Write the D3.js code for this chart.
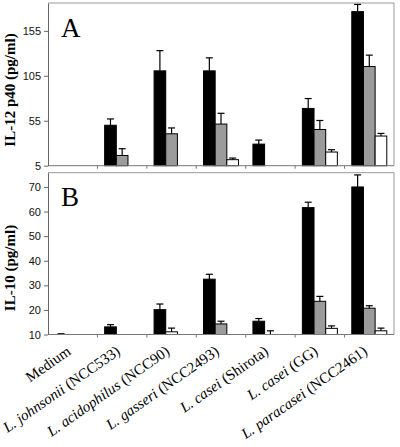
<!DOCTYPE html>
<html><head><meta charset="utf-8">
<script src="https://cdn.jsdelivr.net/npm/d3@7"></script>
<style>body{margin:0;background:#fff}svg{display:block}</style>
</head><body>
<script>
const categories = ["Medium","L. johnsonii (NCC533)","L. acidophilus (NCC90)","L. gasseri (NCC2493)","L. casei (Shirota)","L. casei (GG)","L. paracasei (NCC2461)"];
const speciesNames = ["Medium","L. johnsonii","L. acidophilus","L. gasseri","L. casei","L. casei","L. paracasei"];
const strainNames = ["","(NCC533)","(NCC90)","(NCC2493)","(Shirota)","(GG)","(NCC2461)"];
const speciesItalic = [false,true,true,true,true,true,true];

// Panel A: IL-12 p40 (pg/ml)
const aBlack    = [null, 50, 110.5, 110.5, 29, 68.7, 176.4];
const aBlackErr = [null, 7, 22.5, 14.5, 4.5, 11, 8];
const aGray     = [null, 16.4, 40.5, 51.3, null, 45.3, 115.3];
const aGrayErr  = [null, 7.5, 6.5, 12, null, 10, 12.7];
const aWhite    = [null, null, null, 11.7, null, 20.2, 38];
const aWhiteErr = [null, null, null, 1.8, null, 2.6, 2.9];
const aWhiteSlot = [2,2,2,2,2,2,2];
const aTicks = [5, 55, 105, 155];

// Panel B: IL-10 (pg/ml)
const bBlack    = [10, 13.1, 20.1, 32.5, 15.4, 61.6, 70.0];
const bBlackErr = [0.3, 0.9, 2.3, 2, 1.1, 2.2, 4.9];
const bGray     = [null, null, null, 14.3, null, 23.5, 20.7];
const bGrayErr  = [null, null, null, 1.1, null, 2, 1];
const bWhite    = [null, null, 11.1, null, 10, 12.5, 11.5];
const bWhiteErr = [null, null, 1.5, null, 1.5, 1, 1.1];
const bWhiteSlot = [2,2,1,2,1,2,2];
const bTicks = [10, 20, 30, 40, 50, 60, 70];

const W = 400, H = 447;
const svg = d3.select("body").append("svg").attr("width", W).attr("height", H);

const x = d3.scaleBand().domain(categories).range([48, 394]).paddingInner(0).paddingOuter(0);
const bw = x.bandwidth() * 0.236;
const off = (x.bandwidth() - 3 * bw) / 2;

const panels = [
  {y: d3.scaleLinear().domain([5, 186]).range([165.7, 3]), ticks: aTicks, letter: "A", letterY: 37,
   title: "IL-12 p40 (pg/ml)", titleY: 90,
   series: [{v: aBlack, e: aBlackErr, fill: "#000", slot: categories.map(()=>0)},
            {v: aGray, e: aGrayErr, fill: "#9b9b9b", slot: categories.map(()=>1)},
            {v: aWhite, e: aWhiteErr, fill: "#fff", slot: aWhiteSlot}]},
  {y: d3.scaleLinear().domain([10, 75.8]).range([334.5, 172.7]), ticks: bTicks, letter: "B", letterY: 206,
   title: "IL-10 (pg/ml)", titleY: 268,
   series: [{v: bBlack, e: bBlackErr, fill: "#000", slot: categories.map(()=>0)},
            {v: bGray, e: bGrayErr, fill: "#9b9b9b", slot: categories.map(()=>1)},
            {v: bWhite, e: bWhiteErr, fill: "#fff", slot: bWhiteSlot}]}
];

panels.forEach(p => {
  const y = p.y;
  const [y0, y1] = y.range();
  const g = svg.append("g");
  g.append("path").attr("d", `M48,${y1}H394V${y0}`).attr("fill","none").attr("stroke","#999").attr("stroke-width",1);
  p.series.forEach(s => {
    s.v.forEach((v, i) => {
      if (v == null) return;
      const bx = x(categories[i]) + off + s.slot[i] * bw;
      const top = y(v);
      if (v > y.domain()[0]) {
        g.append("rect").attr("x", bx).attr("y", top).attr("width", bw).attr("height", y0 - top)
          .attr("fill", s.fill).attr("stroke", "#000").attr("stroke-width", 1);
      }
      const e = s.e[i];
      if (e) {
        const cx = bx + bw / 2, et = y(v + e);
        g.append("line").attr("x1", cx).attr("x2", cx).attr("y1", top).attr("y2", et).attr("stroke","#000").attr("stroke-width",1.2);
        g.append("line").attr("x1", cx - 3.5).attr("x2", cx + 3.5).attr("y1", et).attr("y2", et).attr("stroke","#000").attr("stroke-width",1.2);
      }
    });
  });
  g.append("line").attr("x1",48).attr("x2",394).attr("y1",y0).attr("y2",y0).attr("stroke","#777");
  categories.forEach((c,i) => {
    if (i === 0) return;
    g.append("line").attr("x1",x(c)).attr("x2",x(c)).attr("y1",y0).attr("y2",y0+3).attr("stroke","#777");
  });
  const ax = g.append("g").attr("transform","translate(48,0)")
    .call(d3.axisLeft(y).tickValues(p.ticks).tickSize(4).tickPadding(3).tickSizeOuter(0));
  ax.select(".domain").attr("stroke","#666");
  ax.selectAll(".tick line").attr("stroke","#666");
  ax.selectAll("text").attr("font-family","Arial, 'Liberation Sans', sans-serif").attr("font-size",11).attr("fill","#111");
  g.append("text").attr("x", 61).attr("y", p.letterY).text(p.letter)
    .attr("font-family","'Liberation Serif','Times New Roman',serif").attr("font-size",27);
  g.append("text").attr("transform", `translate(15,${p.titleY}) rotate(-90)`).attr("text-anchor","middle")
    .attr("font-family","'Liberation Serif','Times New Roman',serif").attr("font-weight","bold").attr("font-size",15)
    .text(p.title);
});

const baseY = panels[1].y.range()[0];
categories.forEach((c, i) => {
  const cx = x(c) + x.bandwidth() / 2 - 1;
  const t = svg.append("text").attr("transform", `translate(${cx},${baseY + 19}) rotate(-35)`)
    .attr("text-anchor","end").attr("font-family","'Liberation Serif','Times New Roman',serif").attr("font-size",15);
  t.append("tspan").attr("font-style", speciesItalic[i] ? "italic" : "normal").text(speciesNames[i]);
  if (strainNames[i]) t.append("tspan").text(" " + strainNames[i]);
});
</script>
</body></html>
